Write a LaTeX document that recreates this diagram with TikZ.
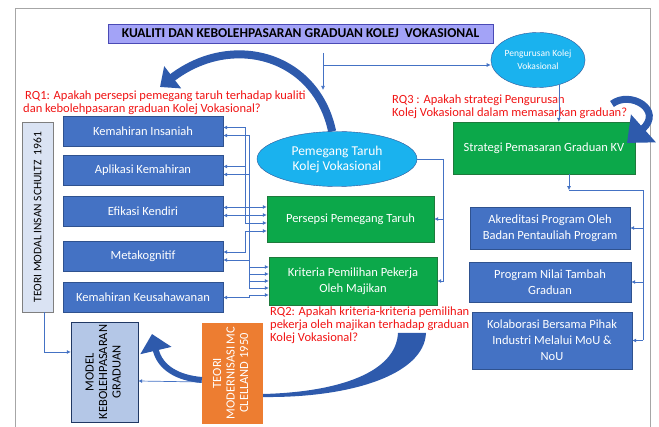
\documentclass[tikz,border=0pt]{standalone}
\usepackage{fontspec}
\setmainfont{Carlito}
\usetikzlibrary{positioning,shapes.geometric,arrows.meta,calc,backgrounds}

\definecolor{kvblue}{RGB}{68,114,196}
\definecolor{kvblueline}{RGB}{47,82,143}
\definecolor{kvgreen}{RGB}{12,168,74}
\definecolor{kvgreenline}{RGB}{30,122,60}
\definecolor{kvcyan}{RGB}{26,178,238}
\definecolor{kvnavy}{RGB}{47,85,151}
\definecolor{kvlav}{RGB}{163,163,247}
\definecolor{kvlavline}{RGB}{74,74,181}
\definecolor{kvpale}{RGB}{218,227,243}
\definecolor{kvgrey}{RGB}{127,127,127}
\definecolor{kvsteel}{RGB}{180,199,231}
\definecolor{kvdeep}{RGB}{32,56,100}
\definecolor{kvorange}{RGB}{237,125,49}
\definecolor{kvred}{RGB}{240,20,20}
\definecolor{kvlink}{RGB}{68,114,196}
\definecolor{kvarrow}{RGB}{46,90,172}
\definecolor{kvframe}{RGB}{166,166,166}

\begin{document}
\begin{tikzpicture}[x=1pt ,y=-1pt ,font=\fontsize{12.5}{16}\selectfont ,
box/.style ={rectangle ,draw ,text=white ,align=center ,inner sep=1pt},
skill/.style ={box ,fill=kvblue ,draw=kvblueline ,minimum width=160pt ,minimum height=30pt},
factor/.style ={box ,fill=kvgreen ,draw=kvgreenline},
prog/.style ={box ,fill=kvblue ,draw=kvblueline ,minimum width=160pt},
oval/.style ={ellipse ,fill=kvcyan ,draw=kvnavy ,text=white ,align=center ,inner sep=0pt},
theory/.style ={rectangle ,draw ,align=center ,inner sep=0pt ,font=\fontsize{12.5}{13.5}\selectfont},
rq/.style ={text=kvred ,align=left ,anchor=west ,inner sep=0pt ,font=\fontsize{12.5}{13}\selectfont},
link/.style ={draw=kvlink ,line width=0.7pt ,-{Latex[length=4pt,width=4pt]}},
duo/.style ={link ,{Latex[length=4pt,width=4pt]}-{Latex[length=4pt,width=4pt]}},
sweep/.style ={draw=kvarrow ,line width=8pt}]
\useasboundingbox (0,0) rectangle (659,427);
\draw[kvframe ,line width=0.8pt] (15,427) -- (15,8) -- (650,8) -- (650,427);

% title and the two ovals
\node[box ,fill=kvlav ,draw=kvlavline ,text=black ,font=\fontsize{13.5}{15}\selectfont\bfseries ,minimum width=385pt ,minimum height=19pt ,inner sep=0pt] (T) at (300.5,33.5) {KUALITI DAN KEBOLEHPASARAN GRADUAN KOLEJ\ \ VOKASIONAL};
\node[oval ,minimum width=90pt ,minimum height=55pt ,font=\fontsize{9.5}{13}\selectfont] (PK) at (538,60) {Pengurusan Kolej\\Vokasional};
\node[oval ,minimum width=160pt ,minimum height=55pt ,font=\fontsize{13.5}{15}\selectfont] (PT) at (337,159) {Pemegang Taruh\\Kolej Vokasional};

% left column
\node[skill] (KI) at (143,131.5) {Kemahiran Insaniah};
\node[skill] (AK) at (143,170.5) {Aplikasi Kemahiran};
\node[skill] (EK) at (143,211.5) {Efikasi Kendiri};
\node[skill] (MK) at (143,256) {Metakognitif};
\node[skill] (KK) at (143,297.5) {Kemahiran Keusahawanan};

% green boxes
\node[factor ,minimum width=167pt ,minimum height=46pt] (PP) at (350.5,219) {Persepsi Pemegang Taruh};
\node[factor ,minimum width=168pt ,minimum height=48pt] (KP) at (353,281) {Kriteria Pemilihan Pekerja\\Oleh Majikan};
\node[factor ,minimum width=182pt ,minimum height=52pt] (SP) at (544,148) {Strategi Pemasaran Graduan KV};

% right column
\node[prog ,minimum height=42pt] (AP) at (550,228) {Akreditasi Program Oleh\\Badan Pentauliah Program};
\node[prog ,minimum width=162pt ,minimum height=40pt] (NT) at (550,282) {Program Nilai Tambah\\Graduan};
\node[prog ,minimum height=57pt] (KB) at (552,340.5) {Kolaborasi Bersama Pihak\\Industri Melalui MoU \&\\NoU};

% theories and model
\node[theory ,fill=kvpale ,draw=kvgrey ,minimum width=31pt ,minimum height=190pt ,font=\fontsize{11.5}{13}\selectfont] (TS) at (37.5,217) {\rotatebox{90}{TEORI MODAL INSAN SCHULTZ\ \ 1961}};
\node[theory ,fill=kvsteel ,draw=kvdeep ,minimum width=67pt ,minimum height=100pt] (MG) at (104.5,372) {\rotatebox{90}{\begin{tabular}{@{}c@{}}MODEL\\KEBOLEHPASARAN\\GRADUAN\end{tabular}}};
\node[theory ,fill=kvorange ,draw=kvorange ,text=white ,minimum width=60pt ,minimum height=100pt] (TM) at (232,373) {\rotatebox{90}{\begin{tabular}{@{}c@{}}TEORI\\MODERNISASI MC\\CLELLAND 1950\end{tabular}}};

% research questions
\node[rq] (RQ1) at (23,102.5) {\hspace{2pt}RQ1: Apakah persepsi pemegang taruh terhadap kualiti\\dan kebolehpasaran graduan Kolej Vokasional?};
\node[rq] (RQ2) at (270,325) {RQ2: Apakah kriteria-kriteria pemilihan\\pekerja oleh majikan terhadap graduan\\Kolej Vokasional?};
\node[rq] (RQ3) at (392,106.5) {RQ3 : Apakah strategi Pengurusan\\Kolej Vokasional dalam memasarkan graduan?};

% thin connectors
\coordinate (c1) at (323,53);
\coordinate (c2) at (323,65);
\coordinate (c3) at (323,90);
\draw[link] (c1) -- (c3);
\draw[link] (c2) -- (c2 -| PK.west);
\draw[link] (PK.-50) -- (PK.-50 |- SP.north);
\draw (PT.east) [kvlink ,line width=0.7pt] -- ++(26,0) coordinate (b1);
\draw[link] (b1) |- (PP.east);
\draw[link] (b1) |- (KP.east);
\foreach \b/\o in {KI/-12,AK/-4,EK/4,MK/12}
  \draw[duo] ($(\b.east)+(0,-4)$) -- ++(22,0) |- ($(PP.west)+(0,\o)$);
\foreach \b/\o/\s in {KI/-14/4,AK/-7/4,EK/0/4,MK/7/4,KK/14/0}
  \draw[duo] ($(\b.east)+(0,\s)$) -- ++(26,0) |- ($(KP.west)+(0,\o)$);
\draw[link] ($(SP.south)+(25,0)$) -- ($(SP.south)+(25,16)$) coordinate (s1);
\coordinate (b2) at ($(SP.south east)+(8,16)$);
\draw[kvlink ,line width=0.7pt] (s1) -- (b2) -- (b2 |- KB.east);
\foreach \n in {AP,NT,KB}
  \draw[link] (b2 |- \n.east) -- (\n.east);
\draw[link] ($(TS.south)+(7,0)$) |- ($(MG.west)+(0,-20)$);
\draw[link] ($(TM.west)+(0,9)$) -- ($(MG.east)+(0,9)$);

% big sweeping arrows
\coordinate (q1) at (160,87);
\coordinate (q2) at (152,334);
\coordinate (q3) at (612,104);
\coordinate (q4) at (627,143);
\begin{scope}[on background layer]
\draw[sweep ,-{Triangle[length=16pt,width=27pt]}] (PT.100) .. controls (316,55) and (232,32) .. (q1);
\fill[kvarrow] (398,333) .. controls (396,372) and (340,392) .. (263,394) -- (263,397) .. controls (350,398) and (424,375) .. (426,333) -- cycle;
\end{scope}
\draw[sweep ,line width=6pt ,-{Triangle[length=17pt,width=31pt]}] ($(TM.west)+(0,7)$) .. controls (178,378) and (160,368) .. (q2);
\draw[sweep ,line width=7pt ,-{Triangle[length=22pt,width=36pt]}] (q3) .. controls (630,90) and (664,110) .. (q4);
\end{tikzpicture}
\end{document}
